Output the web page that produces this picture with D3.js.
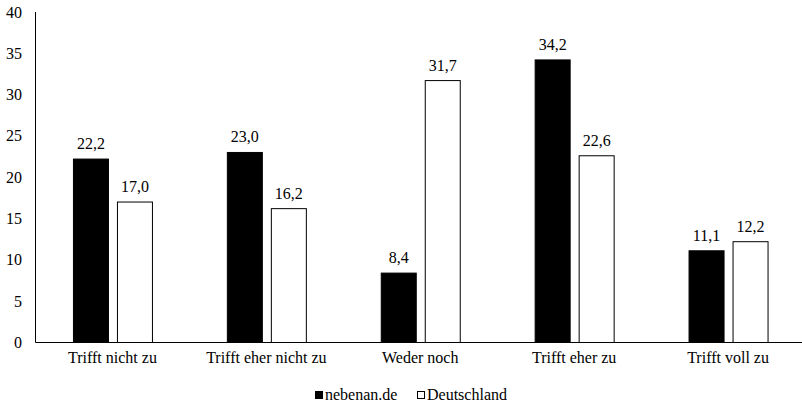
<!DOCTYPE html>
<html><head><meta charset="utf-8">
<script src="https://cdn.jsdelivr.net/npm/d3@7"></script>
</head><body style="margin:0;background:#fff"><svg id="c" width="802" height="406" font-family="Liberation Serif"></svg>
<script>
const categories = ["Trifft nicht zu","Trifft eher nicht zu","Weder noch","Trifft eher zu","Trifft voll zu"];
const seriesNames = ["nebenan.de","Deutschland"];
const nebenan = [22.2,23.0,8.4,34.2,11.1];
const deutschland = [17.0,16.2,31.7,22.6,12.2];
const yTicks = [0,5,10,15,20,25,30,35,40];

(function(){
const svg = d3.select("#c");
const mLeft = 35.5, mRight = 805, mTop = 12, mBottom = 342.5;
const x = d3.scaleBand().domain(categories).range([mLeft, mRight]).padding(0);
const y = d3.scaleLinear().domain([0,40]).range([mBottom, mTop]);
const barW = 35, gap = 9;
const fmt = v => v.toFixed(1).replace(".", ",");
const series = [{name:seriesNames[0], vals:nebenan, fill:"#000"},{name:seriesNames[1], vals:deutschland, fill:"#fff"}];
const T = sel => sel.attr("font-family", "Liberation Serif").style("font-family", "'Liberation Serif'").attr("font-size", 16).attr("fill", "#000");

series.forEach((s, si) => {
  const off = si === 0 ? -(gap/2 + barW) : gap/2;
  const g = svg.append("g");
  g.selectAll("rect").data(categories).join("rect")
    .attr("x", d => x(d) + x.bandwidth()/2 + off + 0.5)
    .attr("y", (d,i) => y(s.vals[i]))
    .attr("width", barW)
    .attr("height", (d,i) => mBottom - y(s.vals[i]))
    .attr("fill", s.fill).attr("stroke", "#000").attr("stroke-width", 1);
  g.selectAll("text").data(categories).join("text")
    .attr("x", d => x(d) + x.bandwidth()/2 + off + barW/2 + 0.5)
    .attr("y", (d,i) => y(s.vals[i]) - 10)
    .attr("text-anchor", "middle").call(T)
    .text((d,i) => fmt(s.vals[i]));
});

svg.append("line").attr("x1", mLeft).attr("x2", mLeft).attr("y1", mTop).attr("y2", mBottom).attr("stroke", "#000");
svg.append("g").selectAll("text").data(yTicks).join("text")
  .attr("x", 22).attr("y", d => y(d) + 5.5)
  .attr("text-anchor", "end").call(T).text(d => d);
svg.append("line").attr("x1", mLeft).attr("x2", mRight).attr("y1", mBottom).attr("y2", mBottom).attr("stroke", "#000");
svg.append("g").selectAll("text").data(categories).join("text")
  .attr("x", d => x(d) + x.bandwidth()/2).attr("y", 363)
  .attr("text-anchor", "middle").call(T).text(d => d);

const leg = [{x:315, name:seriesNames[0], fill:"#000"},{x:417, name:seriesNames[1], fill:"#fff"}];
leg.forEach(l => {
  svg.append("rect").attr("x", l.x + 0.5).attr("y", 391.5).attr("width", 7).attr("height", 7)
    .attr("fill", l.fill).attr("stroke", "#000");
  svg.append("text").attr("x", l.x + 10).attr("y", 400).call(T).text(l.name);
});
})();
</script></body></html>
